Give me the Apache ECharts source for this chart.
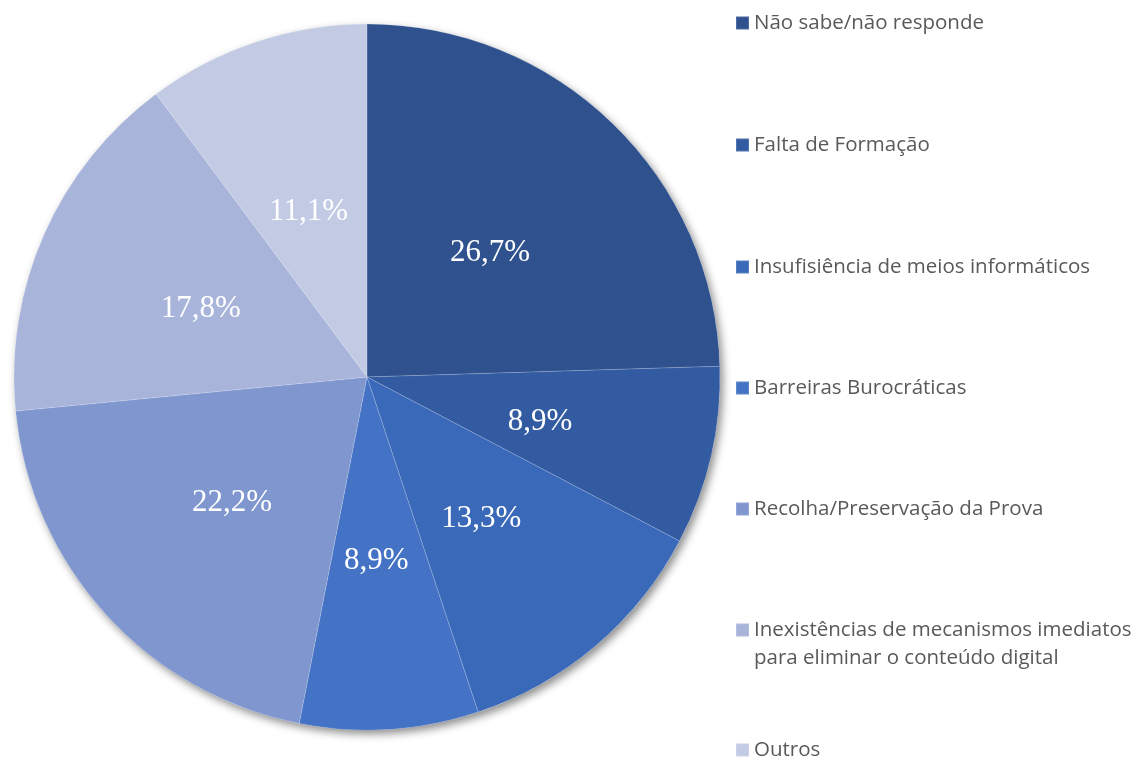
<!DOCTYPE html>
<html>
<head>
<meta charset="utf-8">
<script src="https://cdn.jsdelivr.net/npm/echarts@6/dist/echarts.min.js"></script>
<style>
html,body{margin:0;padding:0;background:#fff;}
#chart{width:1140px;height:761px;}
</style>
</head>
<body>
<div id="chart"></div>
<script>
const categories = [
  'Não sabe/não responde',
  'Falta de Formação',
  'Insufisiência de meios informáticos',
  'Barreiras Burocráticas',
  'Recolha/Preservação da Prova',
  'Inexistências de mecanismos imediatos para eliminar o conteúdo digital',
  'Outros'
];
const values = [26.7, 8.9, 13.3, 8.9, 22.2, 17.8, 11.1];
const colors = ['#2F528F', '#335BA2', '#3B69B9', '#4472C4', '#7F96CF', '#A8B4DA', '#C3CBE4'];
const legendCenters = [23, 145, 267, 388, 509, 630, 750];

const chart = echarts.init(document.getElementById('chart'));
const fs = 20.5, lh = 28;
const legends = categories.map((name, i) => {
  const multi = i === 5;
  return {
    data: [name],
    orient: 'vertical',
    left: 735,
    top: multi ? legendCenters[i] - lh * 1.5 : legendCenters[i] - lh / 2,
    padding: 0,
    itemWidth: 13,
    itemHeight: 13,
    itemGap: 0,
    icon: 'rect',
    selectedMode: false,
    formatter: multi ? function () { return '\u00a0\nInexistências de mecanismos imediatos\npara eliminar o conteúdo digital'; } : '{name}',
    textStyle: { fontFamily: 'Open Sans', fontSize: fs, lineHeight: lh, color: '#595959', padding: [0, 0, 0, 0] }
  };
});

chart.setOption({
  animation: false,
  color: colors,
  legend: legends,
  series: [
    {
      type: 'pie',
      silent: true,
      center: [367, 377],
      radius: 353,
      label: { show: false },
      labelLine: { show: false },
      data: [{ value: 1, itemStyle: { color: '#ffffff', shadowBlur: 8, shadowOffsetX: 3, shadowOffsetY: 4, shadowColor: 'rgba(0,0,0,0.45)' } }],
      z: 1
    },
    {
      type: 'pie',
      center: [367, 377],
      radius: 353,
      startAngle: 90,
      clockwise: true,
      avoidLabelOverlap: false,
      label: {
        show: true,
        position: 'inside',
        color: '#ffffff',
        fontFamily: 'Liberation Serif',
        fontSize: 31,
        offset: [-2, 5],
        formatter: p => p.value.toFixed(1).replace('.', ',') + '%'
      },
      labelLine: { show: false },
      emphasis: { disabled: true },
      itemStyle: { borderColor: 'rgba(255,255,255,0.15)', borderWidth: 1 },
      data: categories.map((n, i) => ({ name: n, value: values[i] })),
      z: 2
    }
  ]
});
</script>
</body>
</html>
